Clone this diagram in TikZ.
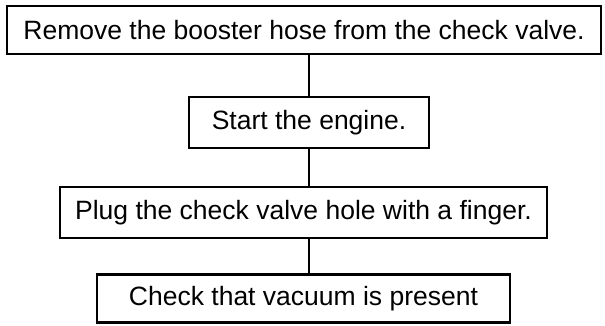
\documentclass[tikz,border=0pt]{standalone}
\usepackage{fontspec}
\setmainfont{Liberation Sans}
\usetikzlibrary{calc}

\tikzset{
	stepbox/.style={draw, line width=2.3pt, inner sep=0pt, align=center,
		font=\fontsize{26.5}{30}\selectfont},
	link/.style={line width=2pt}
}

\begin{document}
\begin{tikzpicture}[x=1pt,y=-1pt]
	
	\useasboundingbox (0,0) rectangle (605,325);
	
	% the four steps, top to bottom
	\node[stepbox, minimum width=594pt, minimum height=48pt] (remove) at (304,30)
		{Remove the booster hose from the check valve.};
	\node[stepbox, minimum width=240pt, minimum height=51pt] (start) at (309,122.5)
		{Start the engine.};
	\node[stepbox, minimum width=487pt, minimum height=51pt] (plug) at (303.5,212.5)
		{Plug the check valve hole with a finger.};
	\node[stepbox, minimum width=413pt, minimum height=48pt] (check) at (303.5,298.5)
		{Check that vacuum is present};
	
	% plain vertical links
	\draw[link]
		(start.north |- remove.south) -- (start.north)
		(start.south) -- (start.south |- plug.north)
		(start.south |- plug.south) -- (start.south |- check.north);
	
\end{tikzpicture}
\end{document}
